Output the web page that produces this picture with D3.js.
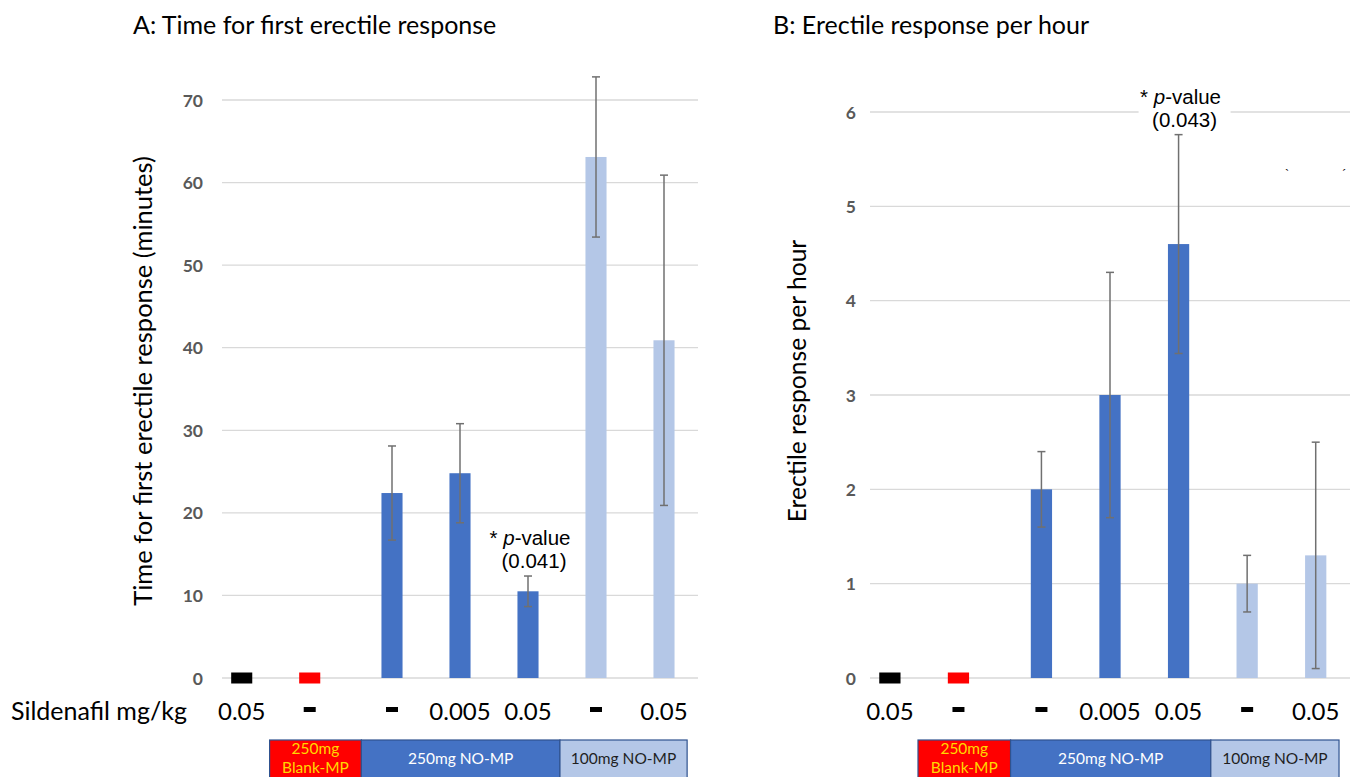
<!DOCTYPE html>
<html>
<head>
<meta charset="utf-8">
<script src="https://cdn.jsdelivr.net/npm/d3@7"></script>
<style>
  body { margin: 0; background: #fff; }
  svg { display: block; }
  .tick text { font-family: Lato, "Open Sans", sans-serif; font-weight: 700; fill: #595959; }
</style>
</head>
<body>
<svg id="chart" width="1358" height="777"></svg>
<script>
// categories, in drawing order
var categories = ['blank', 'blankMP', 'no250', 'no250low', 'no250hi', 'no100', 'no100hi'];
var doseLabels = ['0.05', '-', '-', '0.005', '0.05', '-', '0.05'];
var barColors = ['#000000', '#FF0000', '#4472C4', '#4472C4', '#4472C4', '#B4C7E7', '#B4C7E7'];

// A: time for first erectile response (minutes)
var timeMeans = [0, 0, 22.4, 24.8, 10.5, 63.1, 40.9];
var timeErr   = [0, 0, 5.7, 6.0, 1.85, 9.7, 20.0];
var timeTicks = [0, 10, 20, 30, 40, 50, 60, 70];

// B: erectile response per hour
var rateMeans = [0, 0, 2.0, 3.0, 4.6, 1.0, 1.3];
var rateErr   = [0, 0, 0.4, 1.3, 1.16, 0.3, 1.2];
var rateTicks = [0, 1, 2, 3, 4, 5, 6];

// boxes under the axis, spans in category units
var groups = [
    {label: ['250mg', 'Blank-MP'], from: 0.7, to: 2.05, fill: '#FF0000', text: '#FFD800'},
    {label: ['250mg NO-MP'], from: 2.05, to: 4.97, fill: '#4472C4', text: '#FFFFFF'},
    {label: ['100mg NO-MP'], from: 4.97, to: 6.84, fill: '#B4C7E7', text: '#1F1F1F'}
];

var svg = d3.select('#chart');
var labelFont = 'Lato, "Open Sans", sans-serif';

function drawPanel(p) {
    var g = svg.append('g');

    var x = d3.scaleBand()
        .domain(categories)
        .range([p.left, p.right])
        .paddingInner(0.69)
        .paddingOuter(0.345);
    var step = x.step();
    var cx = function(c, i) {
        // the zero markers sit a little left of their slot
        return x(c) + x.bandwidth() / 2 + (p.means[i] === 0 ? -0.21 * step : 0);
    };

    var y = d3.scaleLinear().domain([0, p.max]).range([p.bottom, p.top]);

    // grid
    g.append('g').selectAll('line')
        .data(p.ticks)
        .join('line')
        .attr('x1', p.left).attr('x2', p.right)
        .attr('y1', d => y(d)).attr('y2', d => y(d))
        .attr('stroke', '#D9D9D9').attr('stroke-width', 1.3);

    var yAxis = g.append('g')
        .attr('transform', 'translate(' + p.tickX + ',0)')
        .call(d3.axisLeft(y).tickValues(p.ticks).tickFormat(d3.format('d')).tickSize(0).tickPadding(0));
    yAxis.select('.domain').remove();
    yAxis.selectAll('text').attr('font-size', 17.5).attr('dy', '0.35em');

    // bars
    g.append('g').selectAll('rect')
        .data(categories)
        .join('rect')
        .attr('x', (c, i) => cx(c, i) - x.bandwidth() / 2)
        .attr('width', x.bandwidth())
        .attr('y', (c, i) => p.means[i] === 0 ? y(0) - 5.5 : y(p.means[i]))
        .attr('height', (c, i) => p.means[i] === 0 ? 11 : y(0) - y(p.means[i]))
        .attr('fill', (c, i) => barColors[i]);

    // error bars
    var eb = g.append('g').selectAll('g')
        .data(categories.filter((c, i) => p.err[i] > 0))
        .join('g')
        .attr('stroke', '#707070').attr('stroke-width', 1.5);
    eb.each(function(c) {
        var i = categories.indexOf(c), m = p.means[i], e = p.err[i], xc = cx(c, i);
        var s = d3.select(this);
        s.append('line').attr('x1', xc).attr('x2', xc).attr('y1', y(m - e)).attr('y2', y(m + e));
        s.append('line').attr('x1', xc - 4).attr('x2', xc + 4).attr('y1', y(m - e)).attr('y2', y(m - e));
        s.append('line').attr('x1', xc - 4).attr('x2', xc + 4).attr('y1', y(m + e)).attr('y2', y(m + e));
    });

    // p-value note
    var ai = categories.indexOf(p.noteAt);
    var ax = cx(p.noteAt, ai) + 6, ay = y(p.means[ai] + p.err[ai]) - 8;
    g.append('rect')
        .attr('x', ax - 46).attr('y', ay - 46).attr('width', 92).attr('height', 52)
        .attr('fill', '#fff');
    var note = g.append('text')
        .attr('font-family', '"Liberation Sans", Arial, sans-serif')
        .attr('font-size', 20.5).attr('fill', '#000')
        .attr('text-anchor', 'middle');
    var l1 = note.append('tspan').attr('x', ax - 4).attr('y', ay - 23);
    l1.append('tspan').text('* ');
    l1.append('tspan').attr('font-style', 'italic').text('p');
    l1.append('tspan').text('-value');
    note.append('tspan').attr('x', ax).attr('y', ay).text(p.note);

    // dose row
    g.append('g').selectAll('text')
        .data(categories.filter((c, i) => doseLabels[i] !== '-'))
        .join('text')
        .attr('x', c => cx(c, categories.indexOf(c)))
        .attr('y', 720)
        .attr('text-anchor', 'middle')
        .attr('font-family', labelFont).attr('font-size', 24).attr('fill', '#000')
        .text(c => doseLabels[categories.indexOf(c)]);
    g.append('g').selectAll('rect')
        .data(categories.filter((c, i) => doseLabels[i] === '-'))
        .join('rect')
        .attr('x', c => cx(c, categories.indexOf(c)) - 6)
        .attr('y', 707).attr('width', 12).attr('height', 5)
        .attr('fill', '#000');

    // group boxes
    var gb = g.append('g').selectAll('g').data(groups).join('g');
    gb.append('rect')
        .attr('x', d => p.left + d.from * step)
        .attr('width', d => (d.to - d.from) * step)
        .attr('y', 740).attr('height', 40)
        .attr('fill', d => d.fill)
        .attr('stroke', '#2F528F').attr('stroke-width', 1.2);
    gb.each(function(d) {
        var mid = p.left + (d.from + d.to) / 2 * step;
        var t = d3.select(this).append('text')
            .attr('text-anchor', 'middle')
            .attr('font-family', labelFont).attr('font-size', 15.5)
            .attr('fill', d.text);
        d.label.forEach(function(s, k) {
            t.append('tspan').attr('x', mid)
                .attr('y', d.label.length > 1 ? 754 + k * 19 : 764)
                .text(s);
        });
    });

    // titles
    g.append('text')
        .attr('x', p.titleX).attr('y', 34)
        .attr('font-family', labelFont).attr('font-size', 25).attr('fill', '#000')
        .text(p.title);
    g.append('text')
        .attr('transform', 'translate(' + p.yTitleX + ',381) rotate(-90)')
        .attr('text-anchor', 'middle')
        .attr('font-family', labelFont).attr('font-size', p.yTitleSize).attr('fill', '#000')
        .text(p.yTitle);
    return g;
}

drawPanel({
    left: 222, right: 698, top: 100, bottom: 678, max: 70,
    means: timeMeans, err: timeErr, ticks: timeTicks, tickX: 203,
    noteAt: 'no250hi', note: '(0.041)',
    title: 'A: Time for first erectile response', titleX: 133,
    yTitle: 'Time for first erectile response (minutes)', yTitleX: 152, yTitleSize: 25.5
});

var right = drawPanel({
    left: 870, right: 1350, top: 112, bottom: 678, max: 6,
    means: rateMeans, err: rateErr, ticks: rateTicks, tickX: 856,
    noteAt: 'no250hi', note: '(0.043)',
    title: 'B: Erectile response per hour', titleX: 773,
    yTitle: 'Erectile response per hour', yTitleX: 806, yTitleSize: 24.6
});

// Dose label on the left only
svg.append('text')
    .attr('x', 11).attr('y', 720)
    .attr('font-family', labelFont).attr('font-size', 25)
    .text('Sildenafil mg/kg');

// two stray marks in the source figure
right.append('text').attr('x', 1285).attr('y', 178).attr('font-size', 12).text('`');
right.append('text').attr('x', 1342).attr('y', 178).attr('font-size', 12).text('´');
</script>
</body>
</html>
